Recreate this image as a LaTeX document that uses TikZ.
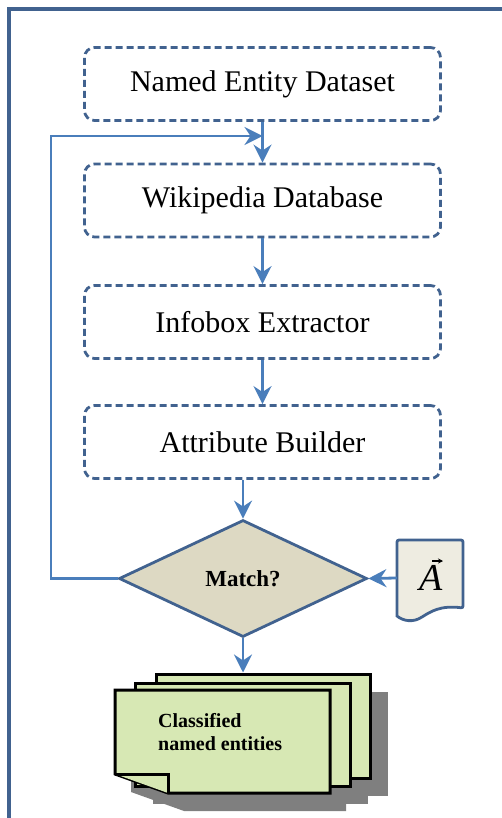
\documentclass[tikz,border=0pt]{standalone}
\usepackage{fontspec}
\setmainfont{Liberation Serif}
\usetikzlibrary{shapes.geometric,arrows.meta}
\definecolor{framec}{HTML}{41628F}
\definecolor{arrc}{HTML}{4A7EBB}
\definecolor{diafill}{HTML}{DDD9C3}
\definecolor{docfill}{HTML}{EEECE1}
\definecolor{sheetfill}{HTML}{D7E8B4}
\definecolor{shadowc}{HTML}{7F7F7F}
\begin{document}
\begin{tikzpicture}[x=1pt,y=-1pt,
  stepbox/.style={draw=framec, line width=2.8pt, dash pattern=on 7pt off 4pt,
    rounded corners=10pt, minimum width=356pt, minimum height=73pt, inner sep=0pt,
    font=\fontsize{30}{36}\selectfont},
  arr/.style={draw=arrc, line width=2.8pt, -{Stealth[length=18pt,width=18pt,inset=6pt]}},
  sheet/.style={draw=black, line width=3pt, fill=sheetfill, line join=miter},
  shadowp/.style={fill=shadowc, draw=none}]
\useasboundingbox (0,0) rectangle (502,818);
% outer frame
\draw[framec, line width=4pt] (8.5,820) -- (8.5,9) -- (504,9);
% process boxes
\node[stepbox] (b1) at (262.5,84) {Named Entity Dataset};
\node[stepbox] (b2) at (262.5,200.5) {Wikipedia Database};
\node[stepbox] (b3) at (262.5,322) {Infobox Extractor};
\node[stepbox] (b4) at (262.5,442) {Attribute Builder};
% decision
\node[diamond, draw=framec, line width=2.8pt, fill=diafill, minimum width=248pt,
  minimum height=117pt, inner sep=0pt, font=\fontsize{23}{26}\selectfont\bfseries]
  (dia) at (243,578.5) {Match?};
% document A
\node[minimum width=66pt, minimum height=80pt, inner sep=0pt] (docA) at (430,578) {};
\draw[draw=framec, line width=2.8pt, fill=docfill, rounded corners=2pt]
  (397,616) -- (397,540) -- (463,540) -- (463,608) [sharp corners]
  .. controls (440,605) and (430,612) .. (422,617)
  .. controls (413,623) and (403,621) .. (397,616) -- cycle;
\node[anchor=base, inner sep=0pt, font=\fontsize{38}{40}\selectfont\itshape] (atext) at (431,590) {A};
\draw[black, line width=1.2pt, -{Stealth[length=5pt,width=5pt]}] (432,561) -- (443,561);
% stack of sheets: shadows
\fill[shadowc] (174,692) rectangle (388,796);
\fill[shadowc] (153,701) rectangle (368,804);
\fill[shadowc] (131,708) -- (346,708) -- (346,811) -- (184,811) -- (131,792) -- cycle;
% sheets
\node[sheet, minimum width=214pt, minimum height=104pt, inner sep=0pt] (stack) at (263,726) {};
\draw[sheet] (135,683) rectangle (350,786);
\draw[sheet] (115,690) -- (330,690) -- (330,793) -- (168,793) -- (115,774) -- cycle;
\draw[sheet] (115,774) -- (168,774) -- (168,793);
\node[anchor=base west, align=left, inner sep=0pt, font=\fontsize{20}{23}\selectfont\bfseries]
  (lbl) at (158,750) {Classified\\named entities};
% connectors
\coordinate (j) at (262.5,136);
\coordinate (loopc) at (51,136);
\draw[arr] (b1.south) -- (b2.north);
\draw[arr] (b2.south) -- (b3.north);
\draw[arr] (b3.south) -- (b4.north);
\draw[arr] (b4.south -| dia.north) -- (dia.north);
\draw[arr] (dia.west) -| (loopc) -- (j);
\draw[arr] (docA.west) -- (dia.east);
\draw[arr] (dia.south) -- (dia.south |- stack.north);
\end{tikzpicture}
\end{document}
